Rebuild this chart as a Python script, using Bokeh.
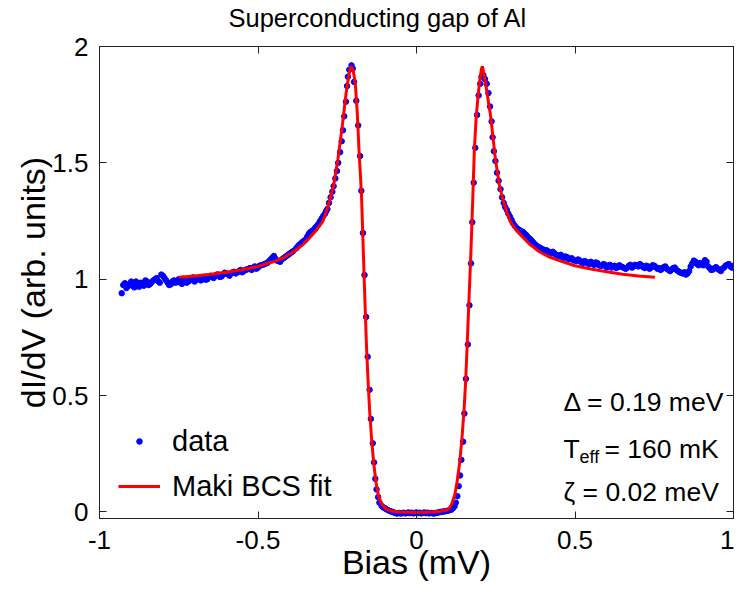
from bokeh.plotting import figure
from bokeh.models import Range1d, FixedTicker, LinearAxis, Legend, LegendItem, Label
from bokeh.embed import file_html
from bokeh.resources import INLINE

FONT = "Liberation Sans"

# ---- measured data (bias in mV, dI/dV in arb. units) ----
bias_left_tail = [-0.93, -0.92, -0.91, -0.90, -0.89, -0.88, -0.87, -0.86, -0.85, -0.84,
                  -0.83, -0.82, -0.81, -0.80, -0.79, -0.78, -0.77, -0.76, -0.75, -0.74,
                  -0.73, -0.72, -0.71, -0.70, -0.69, -0.68, -0.67, -0.66, -0.65, -0.64,
                  -0.63, -0.62, -0.61, -0.60, -0.59, -0.58, -0.57, -0.56, -0.55, -0.54,
                  -0.53, -0.52, -0.51, -0.50, -0.49, -0.48, -0.47, -0.46, -0.45, -0.44,
                  -0.43, -0.42, -0.41, -0.40, -0.39]
didv_left_tail = [0.940, 0.983, 0.970, 0.990, 0.965, 0.978, 0.985, 0.972, 0.990, 0.980,
                  0.995, 1.005, 0.985, 1.015, 0.995, 0.975, 0.990, 0.985, 1.000, 0.980,
                  0.995, 0.990, 1.000, 0.990, 1.005, 0.995, 1.010, 1.000, 1.015, 1.005,
                  1.020, 1.010, 1.020, 1.025, 1.015, 1.030, 1.025, 1.035, 1.030, 1.040,
                  1.045, 1.040, 1.055, 1.050, 1.060, 1.065, 1.070, 1.085, 1.100, 1.080,
                  1.075, 1.090, 1.100, 1.110, 1.120]

bias_left_tail_b = [-0.925, -0.915, -0.905, -0.895, -0.885, -0.875, -0.865, -0.855, -0.845, -0.835,
                    -0.825, -0.815, -0.805, -0.795, -0.785, -0.775, -0.765, -0.755, -0.745, -0.735,
                    -0.725, -0.715, -0.705, -0.695, -0.685, -0.675, -0.665, -0.655, -0.645, -0.635,
                    -0.625, -0.615, -0.605, -0.595, -0.585, -0.575, -0.565, -0.555, -0.545, -0.535,
                    -0.525, -0.515, -0.505, -0.495, -0.485, -0.475, -0.465, -0.455, -0.445, -0.435,
                    -0.425, -0.415, -0.405, -0.395]
didv_left_tail_b = [0.975, 0.962, 0.980, 0.972, 0.990, 0.968, 0.982, 0.995, 0.975, 0.988,
                    1.000, 0.992, 1.020, 1.005, 0.985, 0.978, 0.995, 0.990, 0.985, 1.002,
                    0.985, 0.995, 1.008, 0.998, 1.000, 1.005, 0.998, 1.012, 1.010, 1.015,
                    1.020, 1.012, 1.028, 1.022, 1.025, 1.032, 1.030, 1.040, 1.035, 1.042,
                    1.048, 1.050, 1.045, 1.058, 1.062, 1.068, 1.078, 1.092, 1.088, 1.078,
                    1.085, 1.095, 1.105, 1.115]

bias_left_peak = [-0.380, -0.375, -0.370, -0.365, -0.360, -0.355, -0.350, -0.345, -0.340, -0.335,
                  -0.330, -0.325, -0.320, -0.315, -0.310, -0.305, -0.2995, -0.294, -0.289, -0.285,
                  -0.281, -0.276, -0.271, -0.2655, -0.2615, -0.256, -0.251, -0.247, -0.241, -0.236,
                  -0.232, -0.228, -0.2225, -0.219, -0.2165, -0.212, -0.205, -0.201, -0.197, -0.190,
                  -0.184, -0.178, -0.174, -0.169, -0.164, -0.159, -0.154, -0.148, -0.144, -0.138,
                  -0.134, -0.130, -0.126, -0.121]
didv_left_peak = [1.132, 1.140, 1.148, 1.153, 1.160, 1.165, 1.170, 1.182, 1.195, 1.203,
                  1.207, 1.212, 1.220, 1.228, 1.236, 1.248, 1.260, 1.272, 1.281, 1.292,
                  1.302, 1.328, 1.352, 1.376, 1.400, 1.433, 1.465, 1.500, 1.546, 1.593,
                  1.640, 1.700, 1.763, 1.830, 1.870, 1.900, 1.919, 1.905, 1.848, 1.767,
                  1.661, 1.529, 1.380, 1.199, 1.018, 0.838, 0.667, 0.525, 0.400, 0.295,
                  0.213, 0.143, 0.097, 0.064]

bias_gap = [-0.117, -0.110, -0.105, -0.0995, -0.095, -0.090, -0.084, -0.080, -0.075, -0.070,
            -0.064, -0.060, -0.055, -0.050, -0.045, -0.040, -0.035, -0.030, -0.025, -0.020,
            -0.015, -0.010, -0.005, 0.000, 0.005, 0.010, 0.015, 0.020, 0.025, 0.030,
            0.035, 0.040, 0.045, 0.050, 0.055, 0.060, 0.065, 0.070, 0.075, 0.080,
            0.085, 0.090, 0.095, 0.100, 0.105, 0.110, 0.115]
didv_gap = [0.040, 0.026, 0.020, 0.016, 0.012, 0.008, 0.004, 0.002, 0.000, -0.003,
            -0.006, -0.006, -0.004, -0.007, -0.005, -0.003, -0.006, -0.004, -0.002, -0.005,
            -0.003, -0.006, -0.004, -0.002, -0.005, -0.003, -0.006, -0.004, -0.002, -0.005,
            -0.003, -0.006, -0.004, -0.005, -0.007, -0.004, -0.003, -0.002, 0.000, 0.001,
            0.002, 0.003, 0.004, 0.006, 0.008, 0.010, 0.016]

bias_right_peak = [0.120, 0.124, 0.129, 0.133, 0.1375, 0.1415, 0.147, 0.151, 0.156, 0.162,
                   0.167, 0.172, 0.176, 0.1805, 0.1855, 0.191, 0.196, 0.201, 0.205, 0.211,
                   0.216, 0.2215, 0.227, 0.232, 0.237, 0.240, 0.244, 0.249, 0.254, 0.259,
                   0.265, 0.270, 0.275, 0.280, 0.285, 0.290, 0.295, 0.300, 0.305, 0.310,
                   0.316, 0.321, 0.326, 0.331, 0.336, 0.341, 0.347, 0.352, 0.357, 0.362,
                   0.367, 0.372, 0.377, 0.382]
didv_right_peak = [0.025, 0.040, 0.068, 0.111, 0.157, 0.224, 0.302, 0.423, 0.572, 0.720,
                   0.888, 1.068, 1.245, 1.415, 1.565, 1.706, 1.790, 1.840, 1.870, 1.877,
                   1.860, 1.840, 1.800, 1.742, 1.678, 1.610, 1.550, 1.508, 1.458, 1.423,
                   1.387, 1.352, 1.328, 1.310, 1.298, 1.281, 1.268, 1.255, 1.240, 1.230,
                   1.220, 1.215, 1.210, 1.206, 1.203, 1.196, 1.189, 1.180, 1.174, 1.168,
                   1.160, 1.152, 1.146, 1.140]

bias_right_tail = [0.39, 0.40, 0.41, 0.42, 0.43, 0.44, 0.45, 0.46, 0.47, 0.48,
                   0.49, 0.50, 0.51, 0.52, 0.53, 0.54, 0.55, 0.56, 0.57, 0.58,
                   0.59, 0.60, 0.61, 0.62, 0.63, 0.64, 0.65, 0.66, 0.67, 0.68,
                   0.69, 0.70, 0.71, 0.72, 0.73, 0.74, 0.75, 0.76, 0.77, 0.78,
                   0.79, 0.80, 0.81, 0.82, 0.83, 0.84, 0.85, 0.86, 0.87, 0.88,
                   0.89, 0.90, 0.91, 0.92, 0.93, 0.94, 0.95, 0.96, 0.97, 0.98,
                   0.99, 1.00]
didv_right_tail = [1.135, 1.128, 1.125, 1.115, 1.118, 1.105, 1.100, 1.095, 1.098, 1.085,
                   1.090, 1.080, 1.085, 1.072, 1.078, 1.068, 1.075, 1.062, 1.070, 1.058,
                   1.065, 1.050, 1.062, 1.055, 1.048, 1.060, 1.052, 1.045, 1.058, 1.050,
                   1.062, 1.055, 1.060, 1.048, 1.055, 1.050, 1.058, 1.045, 1.040, 1.052,
                   1.045, 1.035, 1.048, 1.040, 1.030, 1.025, 1.020, 1.035, 1.068, 1.075,
                   1.060, 1.065, 1.082, 1.055, 1.040, 1.048, 1.045, 1.035, 1.050, 1.062,
                   1.055, 1.058]

bias_right_tail_b = [0.385, 0.395, 0.405, 0.415, 0.425, 0.435, 0.445, 0.455, 0.465, 0.475,
                     0.485, 0.495, 0.505, 0.515, 0.525, 0.535, 0.545, 0.555, 0.565, 0.575,
                     0.585, 0.595, 0.605, 0.615, 0.625, 0.635, 0.645, 0.655, 0.665, 0.675,
                     0.685, 0.695, 0.705, 0.715, 0.725, 0.735, 0.745, 0.755, 0.765, 0.775,
                     0.785, 0.795, 0.805, 0.815, 0.825, 0.835, 0.845, 0.855, 0.865, 0.875,
                     0.885, 0.895, 0.905, 0.915, 0.925, 0.935, 0.945, 0.955, 0.965, 0.975,
                     0.985, 0.995]
didv_right_tail_b = [1.138, 1.130, 1.122, 1.120, 1.110, 1.112, 1.102, 1.105, 1.092, 1.095,
                     1.088, 1.082, 1.078, 1.080, 1.070, 1.075, 1.065, 1.068, 1.072, 1.060,
                     1.058, 1.062, 1.055, 1.050, 1.058, 1.052, 1.055, 1.048, 1.050, 1.062,
                     1.055, 1.058, 1.065, 1.052, 1.058, 1.045, 1.060, 1.052, 1.048, 1.045,
                     1.055, 1.040, 1.042, 1.050, 1.035, 1.028, 1.030, 1.025, 1.055, 1.080,
                     1.065, 1.070, 1.060, 1.075, 1.048, 1.042, 1.052, 1.040, 1.045, 1.058,
                     1.065, 1.050]

# ---- Maki BCS fit ----
fit_bias = [-0.75, -0.70, -0.65, -0.60, -0.55, -0.50, -0.45, -0.42, -0.388, -0.357,
            -0.336, -0.315, -0.295, -0.280, -0.262, -0.248, -0.234, -0.222, -0.213, -0.207,
            -0.200, -0.193, -0.187, -0.1815, -0.177, -0.173, -0.168, -0.164, -0.158, -0.153,
            -0.148, -0.142, -0.135, -0.128, -0.120, -0.110, -0.094, -0.075, -0.053, 0.000,
            0.050, 0.075, 0.100, 0.110, 0.121, 0.128, 0.136, 0.143, 0.150, 0.155,
            0.160, 0.164, 0.167, 0.172, 0.1775, 0.1825, 0.188, 0.193, 0.199, 0.205,
            0.208, 0.213, 0.218, 0.226, 0.234, 0.249, 0.262, 0.275, 0.295, 0.315,
            0.336, 0.357, 0.388, 0.420, 0.450, 0.500, 0.550, 0.600, 0.650, 0.700,
            0.752]
fit_didv = [1.009, 1.014, 1.021, 1.030, 1.041, 1.055, 1.076, 1.092, 1.118, 1.150,
            1.180, 1.212, 1.250, 1.310, 1.400, 1.515, 1.660, 1.800, 1.880, 1.915,
            1.900, 1.840, 1.720, 1.557, 1.450, 1.345, 1.130, 0.960, 0.720, 0.570,
            0.440, 0.320, 0.210, 0.130, 0.070, 0.035, 0.011, 0.003, 0.000, -0.002,
            0.000, 0.003, 0.011, 0.030, 0.075, 0.130, 0.210, 0.310, 0.437, 0.560,
            0.720, 0.860, 0.960, 1.130, 1.345, 1.557, 1.690, 1.770, 1.850, 1.905,
            1.915, 1.880, 1.840, 1.770, 1.700, 1.515, 1.400, 1.330, 1.250, 1.210,
            1.180, 1.150, 1.118, 1.095, 1.080, 1.058, 1.044, 1.032, 1.021, 1.014,
            1.009]

x_ticks = [-1, -0.5, 0, 0.5, 1]
x_tick_labels = ["-1", "-0.5", "0", "0.5", "1"]
y_ticks = [0, 0.5, 1, 1.5, 2]
y_tick_labels = ["0", "0.5", "1", "1.5", "2"]

bias = (bias_left_tail + bias_left_tail_b + bias_left_peak + bias_gap
        + bias_right_peak + bias_right_tail + bias_right_tail_b)
didv = (didv_left_tail + didv_left_tail_b + didv_left_peak + didv_gap
        + didv_right_peak + didv_right_tail + didv_right_tail_b)

AX = "#222222"

p = figure(width=734, height=590, x_range=Range1d(-1, 1), y_range=Range1d(-0.028, 2),
           output_backend="svg", toolbar_location=None,
           min_border_left=99, min_border_right=1, min_border_top=46, min_border_bottom=72)
p.background_fill_color = "white"
p.border_fill_color = "white"
p.grid.visible = False
p.outline_line_color = AX
p.outline_line_width = 1

p.title.text = "Superconducting gap of Al"
p.title.text_font = FONT
p.title.text_font_size = "25.5px"
p.title.text_font_style = "normal"
p.title.text_color = "black"
p.title.align = "left"
p.title.offset = 129
p.title.standoff = 0


def style_axis(ax, ticks, labels, show_labels=True):
    ax.ticker = FixedTicker(ticks=ticks)
    ax.major_tick_in = 7
    ax.major_tick_out = 0
    ax.minor_tick_in = 0
    ax.minor_tick_out = 0
    ax.axis_line_color = AX
    ax.major_tick_line_color = AX
    ax.major_label_text_font = FONT
    ax.major_label_text_color = "black"
    if show_labels:
        ax.major_label_overrides = {t: s for t, s in zip(ticks, labels)}
        ax.major_label_text_font_size = "26px"
    else:
        ax.major_label_overrides = {t: "" for t in ticks}
        ax.major_label_text_font_size = "0px"
        ax.major_label_standoff = 0


style_axis(p.xaxis[0], x_ticks, x_tick_labels)
style_axis(p.yaxis[0], y_ticks, y_tick_labels)
p.xaxis[0].major_label_standoff = 12
p.yaxis[0].major_label_standoff = 11
p.xaxis.axis_label = "Bias (mV)"
p.yaxis.axis_label = "dI/dV (arb. units)"
for ax in (p.xaxis[0], p.yaxis[0]):
    ax.axis_label_text_font = FONT
    ax.axis_label_text_font_size = "34px"
    ax.axis_label_text_font_style = "normal"
    ax.axis_label_text_color = "black"
p.xaxis[0].axis_label_standoff = -9
p.yaxis[0].axis_label_standoff = -3

top_ax = LinearAxis()
style_axis(top_ax, x_ticks, x_tick_labels, show_labels=False)
# blank axis label acts as a spacer between the frame and the title
top_ax.axis_label = "\u00a0"
top_ax.axis_label_text_font = FONT
top_ax.axis_label_text_font_size = "11px"
top_ax.axis_label_standoff = 0
p.add_layout(top_ax, "above")
right_ax = LinearAxis()
style_axis(right_ax, y_ticks, y_tick_labels, show_labels=False)
p.add_layout(right_ax, "right")

r_data = p.scatter(bias, didv, marker="circle", size=5.5, color="#0000FF")
r_fit = p.line(fit_bias, fit_didv, color="#FF0000", line_width=3)

legend = Legend(items=[LegendItem(label="data", renderers=[r_data]),
                       LegendItem(label="Maki BCS fit", renderers=[r_fit])],
                location=(19, 13), background_fill_alpha=0, border_line_color=None,
                padding=0, margin=0, spacing=7, glyph_width=42, glyph_height=14,
                label_height=38, label_standoff=12, label_text_font=FONT,
                label_text_font_size="29px", label_text_color="black")
p.add_layout(legend)

ann = dict(text_font=FONT, text_font_size="26.5px", text_color="black", text_baseline="middle")
x_ann = 0.4637
p.add_layout(Label(x=x_ann, y=0.472, text="\u0394 = 0.19 meV", **ann))
p.add_layout(Label(x=x_ann, y=0.272, text="T", **ann))
p.add_layout(Label(x=x_ann, y=0.272, x_offset=16, y_offset=-8, text="eff",
                   text_font=FONT, text_font_size="18px", text_color="black", text_baseline="middle"))
p.add_layout(Label(x=x_ann, y=0.272, x_offset=41, text="= 160 mK", **ann))
p.add_layout(Label(x=x_ann, y=0.0875, text="\u03b6 = 0.02 meV", **ann))

open("out.html", "w").write(file_html(p, INLINE))
